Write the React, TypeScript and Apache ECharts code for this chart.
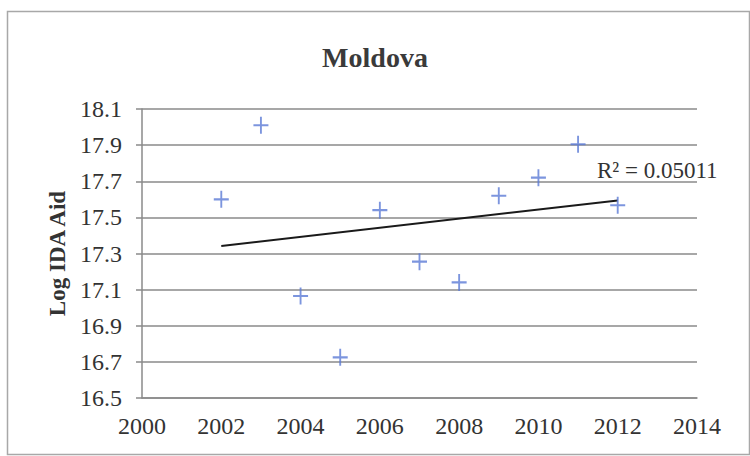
import React, { useEffect, useRef } from "react";
import * as echarts from "echarts";

const years = [2002, 2003, 2004, 2005, 2006, 2007, 2008, 2009, 2010, 2011, 2012];
const logAid = [17.6, 18.01, 17.065, 16.725, 17.54, 17.255, 17.14, 17.62, 17.72, 17.905, 17.567];
const xTicks = [2000, 2002, 2004, 2006, 2008, 2010, 2012, 2014];
const yTicks = [16.5, 16.7, 16.9, 17.1, 17.3, 17.5, 17.7, 17.9, 18.1];
const titleText = "Moldova";
const yAxisName = "Log IDA Aid";
const r2Text = "R\u00B2 = 0.05011";

const FONT = "Liberation Serif, Times New Roman, serif";

function linearFit(xs: number[], ys: number[]) {
  const n = xs.length;
  const mx = xs.reduce((a, b) => a + b, 0) / n;
  const my = ys.reduce((a, b) => a + b, 0) / n;
  let sxy = 0;
  let sxx = 0;
  for (let i = 0; i < n; i++) {
    sxy += (xs[i] - mx) * (ys[i] - my);
    sxx += (xs[i] - mx) * (xs[i] - mx);
  }
  const slope = sxy / sxx;
  return (x: number) => my + slope * (x - mx);
}

export default function App() {
  const ref = useRef<HTMLDivElement>(null);
  useEffect(() => {
    if (!ref.current) return;
    const chart = echarts.init(ref.current, undefined, { renderer: "svg" });
    const fit = linearFit(years, logAid);
    const x0 = years[0];
    const x1 = years[years.length - 1];
    const gridColor = "#8a8a8a";
    chart.setOption({
      animation: false,
      backgroundColor: "#ffffff",
      title: {
        text: titleText,
        left: "center",
        top: 38,
        textStyle: { fontFamily: FONT, fontSize: 28, fontWeight: "bold", color: "#3a3a3a" },
      },
      grid: { left: 142, right: 53, top: 109, bottom: 58 },
      xAxis: {
        type: "value",
        min: xTicks[0],
        max: xTicks[xTicks.length - 1],
        interval: 2,
        axisLine: { show: true, lineStyle: { color: gridColor, width: 1.5 } },
        axisTick: { show: false },
        splitLine: { show: false },
        axisLabel: {
          margin: 16,
          fontFamily: FONT,
          fontSize: 24,
          color: "#333",
          formatter: (v: number) => String(Math.round(v)),
        },
      },
      yAxis: {
        type: "value",
        min: yTicks[0],
        max: yTicks[yTicks.length - 1],
        interval: 0.2,
        name: yAxisName,
        nameLocation: "middle",
        nameGap: 70,
        nameTextStyle: { fontFamily: FONT, fontSize: 23, fontWeight: "bold", color: "#333" },
        axisLine: { show: true, lineStyle: { color: gridColor, width: 1.5 } },
        axisTick: { show: true, inside: false, length: 6, lineStyle: { color: gridColor, width: 1.5 } },
        splitLine: { show: true, lineStyle: { color: gridColor, width: 1.5 } },
        axisLabel: {
          margin: 20,
          fontFamily: FONT,
          fontSize: 24,
          color: "#333",
          formatter: (v: number) => v.toFixed(1),
        },
      },
      graphic: [
        {
          type: "rect",
          left: 5,
          top: 9,
          shape: { width: 742, height: 443 },
          style: { fill: "none", stroke: "#a8a8a8", lineWidth: 1.5 },
          silent: true,
        },
        {
          type: "text",
          left: 597,
          top: 159,
          style: { text: r2Text, fontFamily: FONT, fontSize: 23, fill: "#333" },
          silent: true,
        },
      ],
      series: [
        {
          type: "line",
          data: [
            [x0, fit(x0)],
            [x1, fit(x1)],
          ],
          showSymbol: false,
          symbol: "none",
          lineStyle: { color: "#1a1a1a", width: 2 },
          z: 3,
        },
        {
          type: "scatter",
          data: years.map((y, i) => [y, logAid[i]]),
          symbol: "path://M7,0V16M0,8H14",
          symbolSize: [15, 17],
          itemStyle: { color: "transparent", borderColor: "#5b7bd6", borderWidth: 2 },
          z: 4,
        },
      ],
    });
    return () => chart.dispose();
  }, []);
  return (
    <div
      ref={ref}
      style={{ position: "fixed", left: 0, top: 0, width: 750, height: 456 }}
    />
  );
}
